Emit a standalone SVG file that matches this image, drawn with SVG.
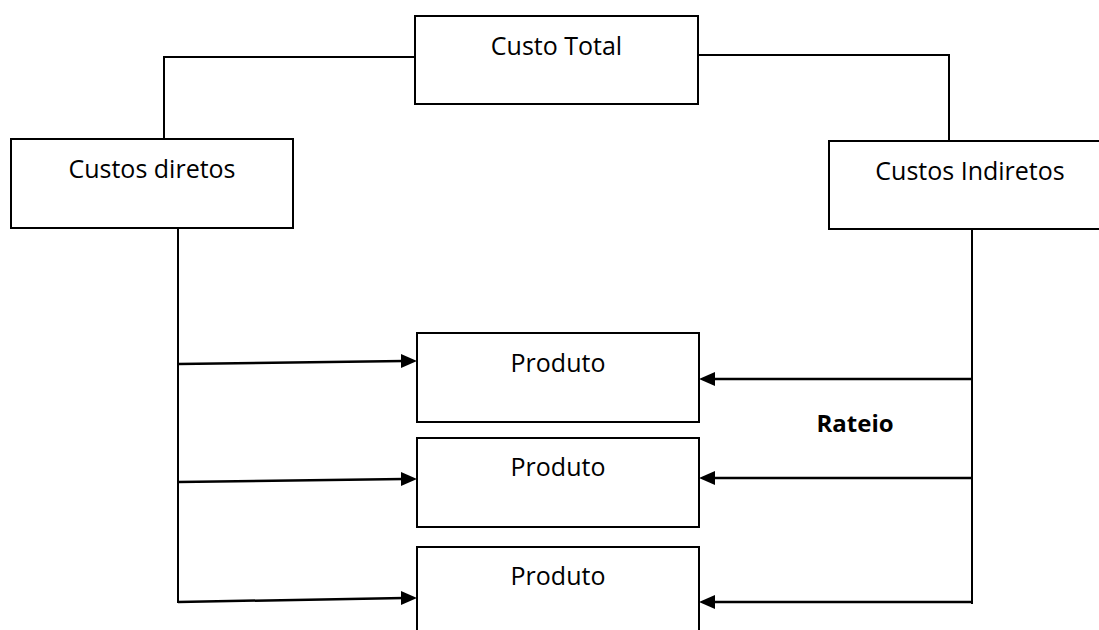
<svg xmlns="http://www.w3.org/2000/svg" width="1099" height="630" viewBox="0 0 1099 630">
<style>
.box{fill:#fff;stroke:#000;stroke-width:2}
.lbl{font-family:"Open Sans","Liberation Sans",sans-serif;font-size:25px;fill:#000;text-anchor:middle}
.bold{font-weight:bold;font-size:24px}
.ln{fill:none;stroke:#000;stroke-width:2}
.ar{fill:none;stroke:#000;stroke-width:2.5}
.hd{fill:#000}
</style>
<rect width="1099" height="630" fill="#fff"/>
<g id="connectors">
<polyline class="ln" points="415,57 164,57 164,139"/>
<polyline class="ln" points="698,55 949,55 949,141"/>
<line class="ln" x1="178" y1="228" x2="178" y2="603"/>
<line class="ln" x1="972" y1="229" x2="972" y2="604"/>
<path class="ar" d="M178,364 L404,361"/>
<path class="hd" d="M401,354 L417,361 L401,368 Z"/>
<path class="ar" d="M178,482 L404,479"/>
<path class="hd" d="M401,472 L417,479 L401,486 Z"/>
<path class="ar" d="M178,602 L404,598"/>
<path class="hd" d="M401,591 L417,598 L401,605 Z"/>
<path class="ar" d="M973,379 L712,379"/>
<path class="hd" d="M715,372 L699,379 L715,386 Z"/>
<path class="ar" d="M973,478 L712,478"/>
<path class="hd" d="M715,471 L699,478 L715,485 Z"/>
<path class="ar" d="M973,602 L712,602"/>
<path class="hd" d="M715,595 L699,602 L715,609 Z"/>
</g>
<g id="custo-total">
<rect class="box" x="415" y="16" width="283" height="88"/>
<text class="lbl" x="556.5" y="55">Custo Total</text>
</g>
<g id="custos-diretos">
<rect class="box" x="11" y="139" width="282" height="89"/>
<text class="lbl" x="152" y="178">Custos diretos</text>
</g>
<g id="custos-indiretos">
<rect class="box" x="829" y="141" width="282" height="88"/>
<text class="lbl" x="970" y="180">Custos Indiretos</text>
</g>
<g id="produto-1">
<rect class="box" x="417" y="333" width="282" height="89"/>
<text class="lbl" x="558" y="372">Produto</text>
</g>
<g id="produto-2">
<rect class="box" x="417" y="438" width="282" height="89"/>
<text class="lbl" x="558" y="476">Produto</text>
</g>
<g id="produto-3">
<rect class="box" x="417" y="547" width="282" height="95"/>
<text class="lbl" x="558" y="585">Produto</text>
</g>
<g id="rateio">
<text class="lbl bold" x="855" y="432">Rateio</text>
</g>
</svg>
